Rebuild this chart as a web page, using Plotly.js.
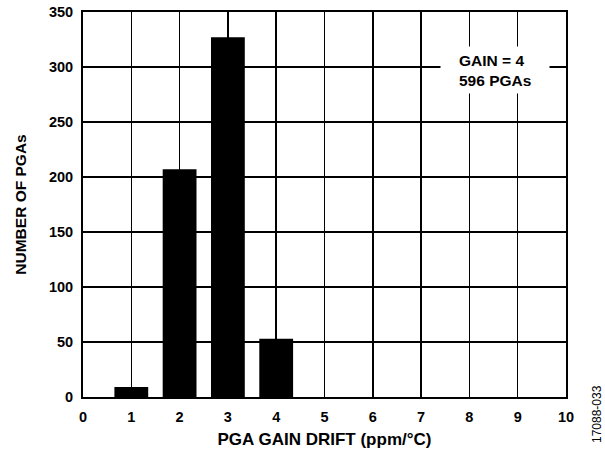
<!DOCTYPE html>
<html>
<head>
<meta charset="utf-8">
<script src="https://cdn.plot.ly/plotly-3.0.1.min.js"></script>
<style>html,body{margin:0;padding:0;background:#fff;}#chart{width:605px;height:449px;}</style>
</head>
<body>
<div id="chart"></div>
<script>
const drift = [1, 2, 3, 4];
const counts = [9, 207, 327, 53];
const xTicks = [0, 1, 2, 3, 4, 5, 6, 7, 8, 9, 10];
const yTicks = [0, 50, 100, 150, 200, 250, 300, 350];
const xTitle = 'PGA GAIN DRIFT (ppm/°C)';
const yTitle = 'NUMBER OF PGAs';
const noteText = 'GAIN = 4<br>596 PGAs';
const figId = '17088-033';

const F = 'Arial, "Liberation Sans", sans-serif';
const trace = {
  type: 'bar', x: drift, y: counts, width: 0.7,
  marker: {color: '#000', line: {width: 0}},
  hoverinfo: 'skip'
};
const layout = {
  width: 605, height: 449,
  margin: {l: 83, r: 39, t: 12, b: 52},
  paper_bgcolor: '#fff', plot_bgcolor: '#fff',
  showlegend: false,
  font: {family: F, size: 14, color: '#000', weight: 'bold'},
  xaxis: {
    range: [0, 10], tickvals: xTicks, ticktext: xTicks.map(String),
    showgrid: true, gridcolor: '#000', gridwidth: 1.5,
    showline: true, linecolor: '#000', linewidth: 2, mirror: true,
    ticks: '', zeroline: false, ticklabelstandoff: 6,
    tickfont: {family: F, size: 14.5, weight: 'bold'},
    title: {text: xTitle, font: {family: F, size: 17, weight: 'bold'}, standoff: 13}
  },
  yaxis: {
    range: [0, 350], tickvals: yTicks, ticktext: yTicks.map(String),
    showgrid: true, gridcolor: '#000', gridwidth: 1.5,
    showline: true, linecolor: '#000', linewidth: 2, mirror: true,
    ticks: '', zeroline: false, ticklabelstandoff: 5,
    tickfont: {family: F, size: 14.5, weight: 'bold'},
    title: {text: yTitle, font: {family: F, size: 15.5, weight: 'bold'}, standoff: 18}
  },
  annotations: [
    {x: 8.53, y: 297, xref: 'x', yref: 'y', text: ' ', showarrow: false,
     bgcolor: '#fff', width: 100, height: 38, borderpad: 4,
     font: {family: F, size: 15.5}},
    {x: 8.53, y: 297, xref: 'x', yref: 'y', text: noteText, showarrow: false,
     align: 'left', font: {family: F, size: 15.5, weight: 'bold'}},
    {x: 1.064, y: -0.125, xref: 'paper', yref: 'paper', text: figId, showarrow: false,
     textangle: -90, xanchor: 'center', yanchor: 'bottom',
     font: {family: F, size: 12, weight: 'normal'}}
  ]
};
Plotly.newPlot('chart', [trace], layout, {staticPlot: true, displayModeBar: false});
</script>
</body>
</html>
